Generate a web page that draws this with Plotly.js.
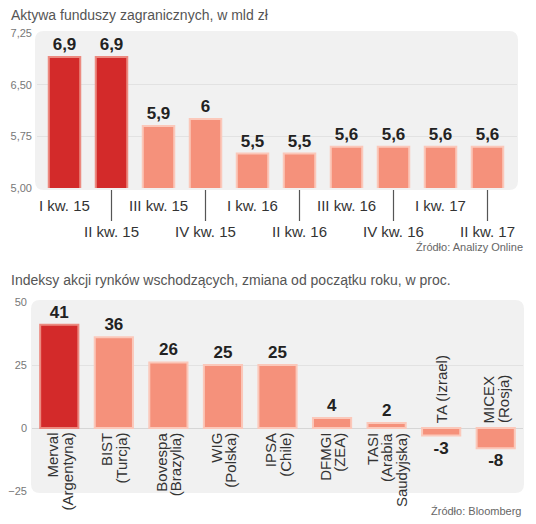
<!DOCTYPE html>
<html><head><meta charset="utf-8">
<script src="https://cdn.plot.ly/plotly-3.0.1.min.js"></script>
<style>html,body{margin:0;padding:0;background:#fff}#chart{width:536px;height:524px}</style>
</head><body><div id="chart"></div>
<script>
// ---- Data ----
const quarters = ["I kw. 15","II kw. 15","III kw. 15","IV kw. 15","I kw. 16","II kw. 16","III kw. 16","IV kw. 16","I kw. 17","II kw. 17"];
const fundAssets = [6.9, 6.9, 5.9, 6.0, 5.5, 5.5, 5.6, 5.6, 5.6, 5.6];
const assetTicks = [5.00, 5.75, 6.50, 7.25];

const indexNames = ["Merval","BIST","Bovespa","WIG","IPSA","DFMGI","TASI","TA","MICEX"];
const indexLabelLines = [["Merval","(Argentyna)"],["BIST","(Turcja)"],["Bovespa","(Brazylia)"],["WIG","(Polska)"],["IPSA","(Chile)"],["DFMGI","(ZEA)"],["TASI","(Arabia","Saudyjska)"],["TA (Izrael)"],["MICEX","(Rosja)"]];
const indexChange = [41, 36, 26, 25, 25, 4, 2, -3, -8];
const changeTicks = [-25, 0, 25, 50];

const title1 = "Aktywa funduszy zagranicznych, w mld zł";
const title2 = "Indeksy akcji rynków wschodzących, zmiana od początku roku, w proc.";
const source1 = "Źródło: Analizy Online";
const source2 = "Źródło: Bloomberg";

// ---- Style ----
const W = 536, H = 524;
const px = x => x / W, py = y => 1 - y / H;
const DARK = "#d32a2a", LIGHT = "#f5917b", DARK_LINE = "#ec8a80", LIGHT_LINE = "#fbc8ba";
const FONT = "Liberation Sans, Arial, sans-serif";
const topDark = 2, bottomDark = 1;

function roundRect(x0, y0, x1, y1, r) {
  const rx = r / W, ry = r / H;
  const X0 = px(x0), X1 = px(x1), T = py(y0), B = py(y1);
  return `M ${X0+rx},${T} L ${X1-rx},${T} Q ${X1},${T} ${X1},${T-ry} L ${X1},${B+ry} Q ${X1},${B} ${X1-rx},${B} L ${X0+rx},${B} Q ${X0},${B} ${X0},${B+ry} L ${X0},${T-ry} Q ${X0},${T} ${X0+rx},${T} Z`;
}

const fmt = v => String(v).replace(".", ",");

const traces = [
  {
    type: "bar", x: quarters, y: fundAssets, xaxis: "x", yaxis: "y",
    width: 0.67,
    marker: { color: quarters.map((_, i) => i < topDark ? DARK : LIGHT),
              line: { color: quarters.map((_, i) => i < topDark ? DARK_LINE : LIGHT_LINE), width: 2 } },
    text: fundAssets.map(fmt), textposition: "outside", constraintext: "none",
    textfont: { family: FONT, size: 17, color: "#222", weight: "bold" },
    outsidetextfont: { family: FONT, size: 17, color: "#222", weight: "bold" },
    hoverinfo: "skip"
  },
  {
    type: "bar", x: indexNames, y: indexChange, xaxis: "x2", yaxis: "y2",
    width: 0.7,
    marker: { color: indexNames.map((_, i) => i < bottomDark ? DARK : LIGHT),
              line: { color: indexNames.map((_, i) => i < bottomDark ? DARK_LINE : LIGHT_LINE), width: 2 } },
    text: indexChange.map(fmt), textposition: "outside", constraintext: "none",
    textfont: { family: FONT, size: 17, color: "#222", weight: "bold" },
    outsidetextfont: { family: FONT, size: 17, color: "#222", weight: "bold" },
    hoverinfo: "skip"
  }
];

const annotations = [];
annotations.push({ text: title1, xref: "paper", yref: "paper", x: px(9), y: py(15), xanchor: "left", yanchor: "middle", showarrow: false, font: { family: FONT, size: 14, color: "#555" } });
annotations.push({ text: title2, xref: "paper", yref: "paper", x: px(9), y: py(280), xanchor: "left", yanchor: "middle", showarrow: false, font: { family: FONT, size: 14, color: "#555" } });
annotations.push({ text: source1, xref: "paper", yref: "paper", x: px(525), y: py(247), xanchor: "right", yanchor: "middle", showarrow: false, font: { family: FONT, size: 11, color: "#666" } });
annotations.push({ text: source2, xref: "paper", yref: "paper", x: px(524), y: py(511), xanchor: "right", yanchor: "middle", showarrow: false, font: { family: FONT, size: 11, color: "#666" } });

quarters.forEach((q, i) => {
  if (i % 2 === 0) {
    annotations.push({ text: q, xref: "x", yref: "y", x: q, y: assetTicks[0], xanchor: "center", yanchor: "top", yshift: -7, showarrow: false, font: { family: FONT, size: 15, color: "#333" } });
  } else {
    annotations.push({ text: q, xref: "x", yref: "y", x: q, y: assetTicks[0], showarrow: true, arrowhead: 0, arrowwidth: 1.2, arrowcolor: "#555", ax: 0, ay: 43, standoff: 2, font: { family: FONT, size: 15, color: "#333" } });
  }
});

indexNames.forEach((name, i) => {
  const lines = indexLabelLines[i];
  const n = lines.length;
  const pos = indexChange[i] >= 0;
  lines.forEach((ln, j) => {
    annotations.push({ text: ln, xref: "x2", yref: "y2", x: name, y: 0, textangle: -90,
      xanchor: "center", yanchor: pos ? "top" : "bottom", yshift: pos ? -3 : 3,
      xshift: (j - (n - 1) / 2) * 14.5, showarrow: false,
      font: { family: FONT, size: 15, color: "#333" } });
  });
});

const layout = {
  width: W, height: H, margin: { l: 0, r: 0, t: 0, b: 0 },
  paper_bgcolor: "#fff", plot_bgcolor: "rgba(0,0,0,0)",
  separators: ",.", showlegend: false, font: { family: FONT },
  xaxis: { domain: [px(37), px(517)], anchor: "y", showticklabels: false, showgrid: false, zeroline: false, showline: false, ticks: "", fixedrange: true },
  yaxis: { domain: [py(188), py(33)], anchor: "x", range: [5, 7.25], tickvals: assetTicks, tickformat: ".2f", showgrid: true, gridcolor: "#e2e2e2", gridwidth: 1, zeroline: false, showline: false, ticks: "", ticklabelstandoff: 4, tickfont: { family: FONT, size: 11, color: "#777" }, fixedrange: true },
  xaxis2: { domain: [px(32), px(523)], anchor: "y2", showticklabels: false, showgrid: false, zeroline: false, showline: false, ticks: "", fixedrange: true },
  yaxis2: { domain: [py(491), py(302)], anchor: "x2", range: [-25, 50], tickvals: changeTicks, showgrid: true, gridcolor: "#e2e2e2", gridwidth: 1, zeroline: true, zerolinecolor: "#d6d6d6", zerolinewidth: 1, showline: false, ticks: "", ticklabelstandoff: 4, tickfont: { family: FONT, size: 11, color: "#777" }, fixedrange: true },
  shapes: [
    { type: "path", xref: "paper", yref: "paper", path: roundRect(35, 31, 518, 190, 9), fillcolor: "#f1f1f1", line: { width: 0 }, layer: "below" },
    { type: "path", xref: "paper", yref: "paper", path: roundRect(31, 300, 524, 493, 9), fillcolor: "#f1f1f1", line: { width: 0 }, layer: "below" }
  ],
  annotations: annotations
};

Plotly.newPlot("chart", traces, layout, { displayModeBar: false, staticPlot: true });
</script>
</body></html>
